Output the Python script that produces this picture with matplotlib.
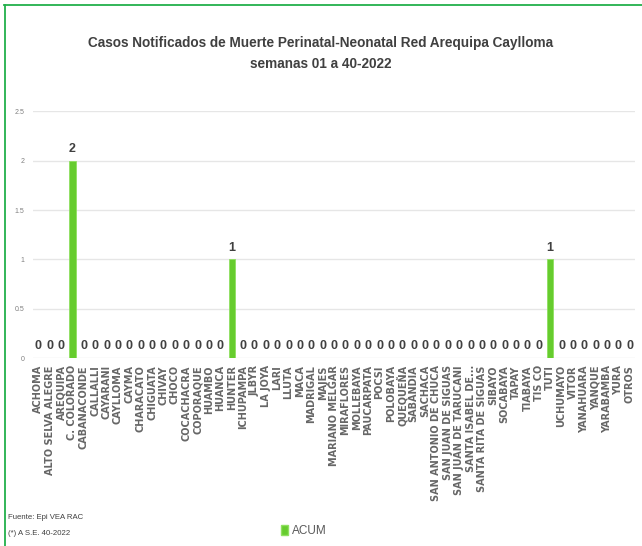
import matplotlib
matplotlib.use("Agg")
import matplotlib.pyplot as plt
from matplotlib.lines import Line2D
from matplotlib.patches import Patch

categories = ["ACHOMA", "ALTO SELVA ALEGRE", "AREQUIPA", "C. COLORADO", "CABANACONDE",
              "CALLALLI", "CAYARANI", "CAYLLOMA", "CAYMA", "CHARACATO", "CHIGUATA",
              "CHIVAY", "CHOCO", "COCACHACRA", "COPORAQUE", "HUAMBO", "HUANCA", "HUNTER",
              "ICHUPAMPA", "JLBYR", "LA JOYA", "LARI", "LLUTA", "MACA", "MADRIGAL", "MAJES",
              "MARIANO MELGAR", "MIRAFLORES", "MOLLEBAYA", "PAUCARPATA", "POCSI", "POLOBAYA",
              "QUEQUEÑA", "SABANDIA", "SACHACA", "SAN ANTONIO DE CHUCA", "SAN JUAN DE SIGUAS",
              "SAN JUAN DE TARUCANI", "SANTA ISABEL DE...", "SANTA RITA DE SIGUAS", "SIBAYO",
              "SOCABAYA", "TAPAY", "TIABAYA", "TIS CO", "TUTI", "UCHUMAYO", "VITOR",
              "YANAHUARA", "YANQUE", "YARABAMBA", "YURA", "OTROS"]
acum = [0, 0, 0, 2, 0, 0, 0, 0, 0, 0, 0, 0, 0, 0, 0, 0, 0, 1,
        0, 0, 0, 0, 0, 0, 0, 0, 0, 0, 0, 0, 0, 0, 0, 0, 0, 0, 0,
        0, 0, 0, 0, 0, 0, 0, 0, 1, 0, 0, 0, 0, 0, 0, 0]
yticks = [0, 0.5, 1, 1.5, 2, 2.5]
title = "Casos Notificados de Muerte Perinatal-Neonatal Red Arequipa Caylloma\nsemanas 01 a 40-2022"
series_name = "ACUM"
notes = ["Fuente: Epi VEA RAC", "(*) A S.E. 40-2022"]

sans = "Liberation Sans"

fig = plt.figure(figsize=(6.42, 5.46), dpi=100)
ax = fig.add_axes([0.0508, 0.3438, 0.939, 0.4524])

x = list(range(len(categories)))
ax.bar(x, acum, width=0.55, color="#66CC2E", edgecolor="#8FE060", linewidth=0.6, zorder=3)
for xi, v in zip(x, acum):
    ax.text(xi, v + 0.06, f"{v:g}", ha="center", va="bottom", fontsize=9,
            fontweight="bold", color="#404040", family=sans)

ax.set_xlim(-0.5, len(categories) - 0.5)
ax.set_ylim(0, 2.5)
ax.set_yticks(yticks)
ax.set_yticklabels([f"{t:g}" for t in yticks], fontsize=5, color="#808080", family=sans)
ax.set_xticks(x)
ax.set_xticklabels(categories, rotation=90, fontsize=7, fontweight="bold",
                   color="#666666", family="DejaVu Sans")
ax.tick_params(axis="both", length=0)
ax.tick_params(axis="y", pad=6)
ax.tick_params(axis="x", pad=5)
for s in ax.spines.values():
    s.set_visible(False)
ax.grid(axis="y", color="#E6E6E6", linewidth=1.0, zorder=0)
ax.set_axisbelow(True)

fig.text(0.5, 0.902, title, ha="center", va="center", fontsize=9.8,
         color="#404040", family=sans, fontweight="bold", linespacing=1.55)

fig.text(0.0125, 0.053, notes[0], ha="left", va="center", fontsize=5.6,
         color="#404040", family=sans)
fig.text(0.0125, 0.022, notes[1], ha="left", va="center", fontsize=5.6,
         color="#404040", family=sans)

leg = fig.legend(handles=[Patch(facecolor="#66CC2E", edgecolor="#8FE060")],
                 labels=[series_name], loc="center", bbox_to_anchor=(0.473, 0.028),
                 frameon=False, handlelength=0.6, handleheight=0.9,
                 handletextpad=0.3, prop={"family": sans, "size": 8.5})
for t in leg.get_texts():
    t.set_color("#595959")

fig.add_artist(Line2D([0.006, 1.0], [0.991, 0.991], transform=fig.transFigure,
                      color="#22B04B", linewidth=1.3))
fig.add_artist(Line2D([0.008, 0.008], [0.0, 0.991], transform=fig.transFigure,
                      color="#22B04B", linewidth=1.3))

fig.savefig("out.png", dpi=100)
